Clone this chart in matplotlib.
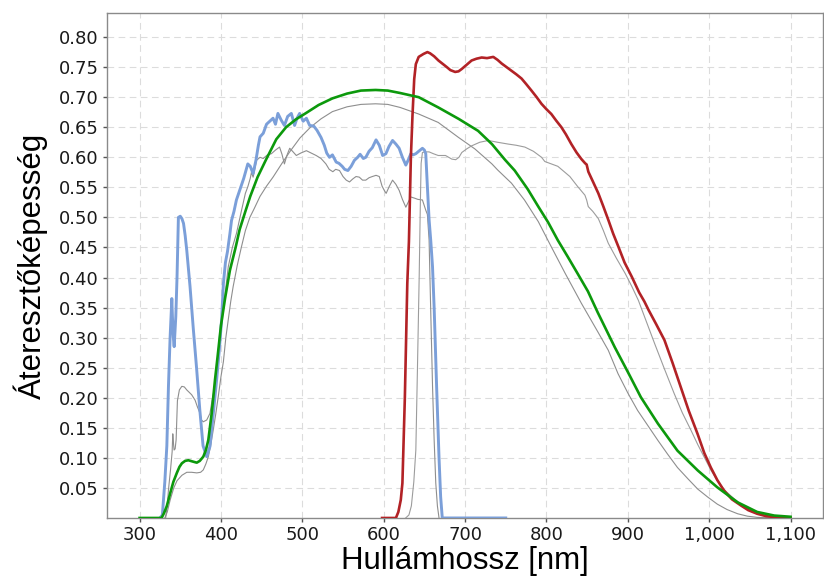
import matplotlib
matplotlib.use('agg')
import matplotlib.pyplot as plt
from matplotlib.ticker import FuncFormatter, MultipleLocator


# (wavelength nm, transmittance)
blue_points = [
    (325, 0), (328, 0.005), (331, 0.06), (333.5, 0.12), (335.5, 0.22), (337.5, 0.30),
    (339, 0.345), (339.6, 0.365), (340.5, 0.33), (341.5, 0.30), (342.5, 0.285),
    (343.5, 0.31), (344.5, 0.335), (346, 0.40), (347.7, 0.50), (350, 0.502),
    (352, 0.498), (354, 0.49), (356, 0.47), (358, 0.445), (362, 0.385), (366, 0.315),
    (370, 0.25), (374, 0.18), (378, 0.12), (382.5, 0.102), (386.5, 0.119),
    (390.6, 0.174), (394.7, 0.23), (398, 0.28), (400.8, 0.33), (403, 0.39),
    (405.5, 0.425), (408, 0.443), (411, 0.473), (413, 0.495), (416, 0.51), (419, 0.529),
    (423, 0.545), (428, 0.565), (433, 0.589), (436, 0.585), (439.5, 0.573), (443, 0.595),
    (446, 0.62), (448, 0.634), (452, 0.64), (456, 0.655), (460, 0.66), (464, 0.665),
    (467, 0.655), (470, 0.673), (474, 0.662), (478, 0.653), (482, 0.668), (486.5, 0.673),
    (490.5, 0.653), (493.5, 0.665), (496.7, 0.673), (501, 0.66), (505, 0.665),
    (509, 0.653), (514, 0.652), (518, 0.645), (523, 0.633), (527, 0.62), (530, 0.607),
    (533.4, 0.60), (537, 0.604), (541.6, 0.592), (545, 0.59), (549, 0.585), (552, 0.58),
    (556, 0.578), (560, 0.585), (564, 0.595), (568, 0.60), (571, 0.605), (575, 0.598),
    (578, 0.60), (582, 0.61), (586, 0.616), (590.6, 0.629), (594.6, 0.62), (598.7, 0.603),
    (602.7, 0.606), (606.5, 0.618), (610.9, 0.628), (615, 0.622), (619, 0.615),
    (623, 0.60), (627.2, 0.587), (630, 0.595), (633.4, 0.606), (636, 0.604),
    (639.5, 0.606), (643, 0.61), (647.6, 0.615), (650, 0.612), (651.7, 0.606),
    (653.7, 0.551), (655.8, 0.496), (657.8, 0.462), (660, 0.418), (662, 0.35),
    (665, 0.22), (668, 0.10), (670, 0.035), (672, 0), (750, 0),
]

green_points = [
    (300, 0), (327, 0), (330, 0.008), (333.5, 0.02), (337.6, 0.041), (341.5, 0.06),
    (345.8, 0.075), (349, 0.085), (352, 0.091), (356, 0.095), (360, 0.096), (365, 0.094),
    (370.3, 0.092), (374, 0.095), (378.3, 0.102), (381.5, 0.113), (384.5, 0.13),
    (388.6, 0.174), (392.7, 0.23), (396, 0.27), (400, 0.32), (405, 0.365), (411, 0.412),
    (418, 0.45), (423, 0.48), (430, 0.51), (436, 0.535), (445, 0.567), (455, 0.595),
    (468, 0.63), (480, 0.65), (492, 0.663), (505, 0.674), (520, 0.687), (537, 0.698),
    (555, 0.706), (572, 0.711), (590, 0.712), (605, 0.711), (620, 0.707), (643, 0.70),
    (667, 0.683), (692, 0.664), (716, 0.644), (733, 0.622), (749, 0.596), (761, 0.578),
    (777, 0.547), (790, 0.518), (802, 0.492), (814, 0.462), (826, 0.435), (839, 0.405),
    (851, 0.377), (863, 0.342), (884, 0.284), (900, 0.243), (916, 0.201), (937, 0.157),
    (961, 0.112), (986, 0.079), (1010, 0.051), (1035, 0.026), (1059, 0.01),
    (1080, 0.004), (1100, 0.002),
]

red_points = [
    (598, 0), (615, 0), (618, 0.01), (621, 0.03), (623, 0.058), (626, 0.2), (629, 0.39),
    (631, 0.46), (633.4, 0.60), (635.4, 0.67), (637.5, 0.73), (639.5, 0.755), (643, 0.767),
    (649, 0.772), (653.7, 0.775), (657, 0.773), (662, 0.768), (667.3, 0.761), (672, 0.756),
    (677.6, 0.75), (682, 0.745), (687.8, 0.742), (692, 0.743), (696, 0.747), (702, 0.754),
    (708, 0.761), (714, 0.764), (720.4, 0.766), (727, 0.765), (734.7, 0.767), (740, 0.762),
    (745, 0.756), (751, 0.75), (757, 0.744), (763, 0.738), (769.4, 0.731), (775, 0.722),
    (781.6, 0.711), (788, 0.70), (793.9, 0.689), (800, 0.68), (806, 0.672), (812, 0.661),
    (818.4, 0.65), (824, 0.638), (830.6, 0.622), (837, 0.608), (843, 0.597), (847.6, 0.59),
    (849.4, 0.588), (851.5, 0.576), (857, 0.56), (863.8, 0.54), (870, 0.518), (876, 0.496),
    (882, 0.473), (888.5, 0.451), (896, 0.425), (905, 0.401), (914, 0.375), (920.4, 0.36),
    (925.5, 0.346), (935, 0.322), (945, 0.296), (955, 0.258), (965, 0.218), (975, 0.178),
    (985.7, 0.14), (994, 0.108), (1002, 0.084), (1010, 0.063), (1018, 0.046), (1028, 0.031),
    (1038.8, 0.021), (1048, 0.013), (1059, 0.007), (1070, 0.003), (1083.7, 0.001), (1100, 0),
]

gray_smooth_points = [
    (331, 0), (334, 0.01), (337.6, 0.03), (342, 0.05), (346, 0.062), (352, 0.071),
    (358, 0.076), (364, 0.076), (370.3, 0.075), (375, 0.076), (378.3, 0.08), (381.5, 0.09),
    (384.5, 0.102), (387.5, 0.122), (390.6, 0.147), (393.5, 0.172), (396.7, 0.202),
    (400, 0.235), (403, 0.26), (406, 0.30), (409, 0.33), (412, 0.36), (415, 0.385),
    (420, 0.42), (425, 0.45), (430, 0.478), (435.5, 0.50), (441, 0.515), (448, 0.535),
    (456, 0.552), (464, 0.567), (475, 0.59), (485, 0.61), (497, 0.632), (510, 0.65),
    (523, 0.664), (537, 0.676), (555, 0.684), (572, 0.688), (590, 0.689), (605, 0.688),
    (620, 0.683), (643, 0.672), (667, 0.658), (692, 0.633), (712, 0.614), (733, 0.589),
    (740, 0.579), (757, 0.557), (773, 0.529), (790, 0.493), (806, 0.451), (823, 0.407),
    (843, 0.357), (863, 0.31), (876, 0.279), (888, 0.24), (900, 0.208), (912, 0.179),
    (925, 0.153), (937, 0.129), (949, 0.106), (961, 0.084), (974, 0.065), (986, 0.048),
    (998, 0.035), (1010, 0.023), (1022, 0.014), (1035, 0.007), (1047, 0.003),
    (1059, 0.001), (1080, 0), (1100, 0),
]

gray_noisy_points = [
    (332, 0), (334, 0.02), (335.5, 0.047), (338, 0.08), (340, 0.11), (340.8, 0.14),
    (341.6, 0.125), (342.4, 0.113), (343.7, 0.115), (344.9, 0.13), (346.5, 0.195),
    (348.9, 0.213), (351.9, 0.219), (355, 0.218), (358, 0.213), (364, 0.205),
    (368.2, 0.196), (371, 0.185), (374.3, 0.174), (376, 0.163), (378.3, 0.16),
    (382.5, 0.163), (386.5, 0.174), (389, 0.195), (392.7, 0.22), (396, 0.27), (399, 0.307),
    (404, 0.36), (409, 0.418), (414, 0.45), (419, 0.473), (425, 0.51), (430, 0.54),
    (433, 0.551), (436, 0.565), (437.5, 0.575), (439.5, 0.567), (441.5, 0.58),
    (443.7, 0.595), (448, 0.60), (452, 0.598), (457, 0.604), (462, 0.606), (467, 0.612),
    (472, 0.617), (475, 0.605), (478, 0.589), (481, 0.603), (484.5, 0.615), (488, 0.61),
    (492.6, 0.603), (498, 0.607), (505, 0.611), (511, 0.607), (517, 0.603), (523, 0.598),
    (529, 0.589), (533, 0.58), (537.5, 0.576), (541, 0.58), (545.7, 0.578), (550, 0.568),
    (554, 0.562), (558, 0.559), (562, 0.564), (566, 0.568), (570, 0.567), (574, 0.562),
    (578, 0.562), (582, 0.566), (586, 0.568), (590.6, 0.57), (594.6, 0.568), (598, 0.552),
    (600.7, 0.545), (603, 0.54), (607, 0.552), (610.9, 0.562), (615, 0.555), (619, 0.545),
    (623, 0.53), (627.2, 0.517), (630, 0.525), (633.4, 0.534), (638, 0.532), (642, 0.53),
    (647.6, 0.529), (651.7, 0.512), (653.7, 0.505), (655.8, 0.462), (657, 0.39),
    (660, 0.22), (662, 0.13), (664, 0.058), (666, 0.02), (668, 0),
]

gray_red_points = [
    (627, 0), (631, 0.005), (634, 0.02), (637, 0.06), (639.5, 0.113), (641.5, 0.25),
    (643.6, 0.40), (645, 0.52), (646, 0.59), (647.6, 0.608), (651, 0.609), (655.8, 0.609),
    (661, 0.606), (667, 0.603), (676, 0.603), (683.7, 0.597), (688.5, 0.596), (692.5, 0.6),
    (696, 0.608), (702, 0.614), (708, 0.619), (718, 0.625), (728.6, 0.628), (740, 0.625),
    (753, 0.622), (763, 0.62), (773.5, 0.617), (784, 0.61), (794, 0.60), (798, 0.593),
    (806, 0.589), (814, 0.585), (821, 0.577), (828.8, 0.568), (838, 0.552), (847.3, 0.537),
    (849.4, 0.529), (851.4, 0.518), (857, 0.51), (863.8, 0.498), (870, 0.478), (876, 0.457),
    (886, 0.432), (896.7, 0.407), (905, 0.385), (913, 0.362), (923, 0.326), (933, 0.29),
    (945, 0.248), (957, 0.207), (967, 0.175), (977.6, 0.146), (986, 0.122), (994, 0.101),
    (1002, 0.08), (1010, 0.062), (1020, 0.045), (1030.6, 0.032), (1041, 0.021),
    (1051, 0.012), (1063, 0.006), (1075.5, 0.002), (1100, 0),
]

x_ticks = [300, 400, 500, 600, 700, 800, 900, 1000, 1100]
y_ticks = [0.05, 0.10, 0.15, 0.20, 0.25, 0.30, 0.35, 0.40,
           0.45, 0.50, 0.55, 0.60, 0.65, 0.70, 0.75, 0.80]


def unzip(points):
    return [p[0] for p in points], [p[1] for p in points]


fig = plt.figure(figsize=(8.24, 5.79), dpi=100)
ax = fig.add_axes([0.1299, 0.1054, 0.8690, 0.8721])

# thin gray reference curves first
for pts, col in [(gray_smooth_points, '#8e8e8e'),
                 (gray_noisy_points, '#8e8e8e'),
                 (gray_red_points, '#9c9c9c')]:
    x, y = unzip(pts)
    ax.plot(x, y, color=col, lw=0.8, zorder=3)

x, y = unzip(blue_points)
ax.plot(x, y, color='#7b9fd9', lw=2.1, zorder=4, solid_joinstyle='round')
x, y = unzip(red_points)
ax.plot(x, y, color='#b22226', lw=1.9, zorder=5, solid_joinstyle='round')
x, y = unzip(green_points)
ax.plot(x, y, color='#0c990c', lw=1.9, zorder=5, solid_joinstyle='round')

ax.set_xlim(260, 1140)
ax.set_ylim(0, 0.84)
ax.set_xticks(x_ticks)
ax.set_yticks(y_ticks)
ax.xaxis.set_major_formatter(FuncFormatter(lambda v, p: f'{int(v):,}'))
ax.yaxis.set_major_formatter(FuncFormatter(lambda v, p: f'{v:.2f}'))

ax.grid(True, color='#dcdcdc', lw=0.8, linestyle=(0, (6, 4)), zorder=0)
ax.set_axisbelow(True)

for s in ax.spines.values():
    s.set_color('#8a8a8a')
    s.set_linewidth(1.0)

ax.tick_params(axis='both', direction='out', length=3, width=1, color='#555555',
               labelsize=13, labelcolor='#1a1a1a', pad=3)

ax.set_xlabel('Hullámhossz [nm]', family='Liberation Sans', fontsize=22.5, color='black')
ax.set_ylabel('Áteresztőképesség', family='Liberation Sans', fontsize=22.5, color='black')
ax.xaxis.set_label_coords(0.5, -0.056)
ax.yaxis.set_label_coords(-0.083, 0.5)

fig.savefig('out.png', dpi=100)
